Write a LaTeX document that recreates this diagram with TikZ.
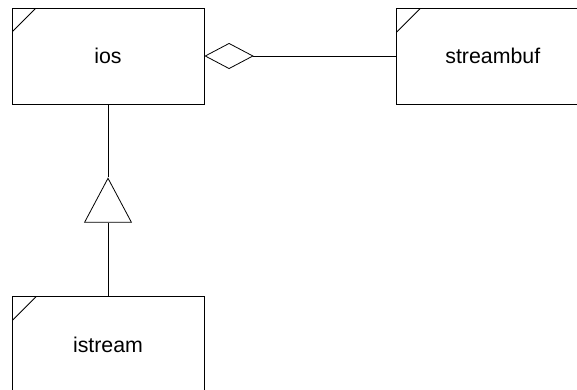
\documentclass[tikz,border=0pt]{standalone}
\usepackage{fontspec}
\setmainfont{Liberation Sans}
\usetikzlibrary{positioning,arrows.meta}

\begin{document}
\begin{tikzpicture}[
                    x=0.75pt, y=-0.75pt,
                    node distance=144pt,
                    line width=0.6pt,
                    every node/.style={
                        font=\fontsize{16}{18}\selectfont
                    },
                    classbox/.style={
                        draw,
                        rectangle,
                        minimum width=144pt,
                        minimum height=72pt,
                        inner sep=0pt,
                        path picture={
                            \draw ([yshift=-18pt]path picture bounding box.north west)
                                -- ([xshift=18pt]path picture bounding box.north west);
                        }
                    }
                ]

                    \useasboundingbox (0,0) rectangle (577,389);
                    \clip (0,0) rectangle (577,389);

                    \node[classbox] (ios) at (108,56) {ios};
                    \node[classbox] (streambuf) [right=of ios] {streambuf};
                    \node[classbox] (istream) [below=of ios] {istream};
                    \coordinate (gen) at ([yshift=-54.75pt]ios.south);

                    % Edges
                    \draw[-{Diamond[open, fill=white, length=37pt, width=19.5pt]}] (streambuf) -- (ios);
                    \draw (ios) -- (gen);
                    \draw[-{Triangle[open, fill=white, length=34pt, width=36pt]}] (istream) -- (gen);
                \end{tikzpicture}
\end{document}
